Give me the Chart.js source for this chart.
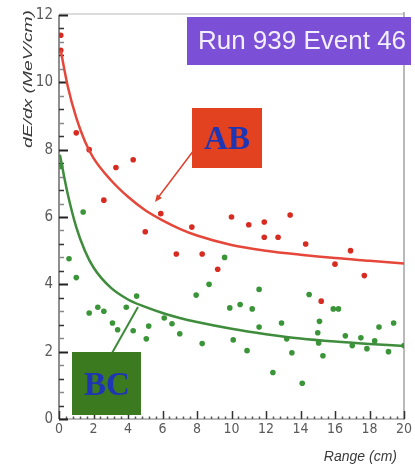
<!DOCTYPE html>
<html>
<head>
<meta charset="utf-8">
<script src="https://cdn.jsdelivr.net/npm/chart.js@4"></script>
<style>
html,body{margin:0;padding:0;background:#fff;}
#wrap{width:415px;height:470px;}
</style>
</head>
<body>
<div id="wrap"><canvas id="c" width="415" height="470"></canvas></div>
<script>
// ---- data ----
const abX = [0.1, 0.1, 1.0, 1.75, 2.6, 3.3, 4.3, 5.0, 5.9, 6.8, 7.7, 8.3, 9.2, 10.0, 11.0, 11.9, 11.9, 12.7, 13.4, 14.3, 15.2, 16.0, 16.9, 17.7];
const abY = [11.4, 10.95, 8.5, 8.0, 6.5, 7.47, 7.7, 5.56, 6.1, 4.9, 5.7, 4.9, 4.45, 6.0, 5.77, 5.85, 5.4, 5.4, 6.06, 5.2, 3.5, 4.6, 5.0, 4.26];

const bcX = [0.1, 0.58, 1.0, 1.4, 1.75, 2.25, 2.6, 3.1, 3.4, 3.9, 4.3, 4.5, 5.06, 5.2, 6.1, 6.55, 7.0, 7.95, 8.3, 8.7, 9.6, 9.9, 10.1, 10.5, 10.9, 11.2, 11.6, 11.6, 12.4, 12.9, 13.2, 13.5, 14.1, 14.5, 15.0, 15.05, 15.1, 15.3, 15.9, 16.2, 16.6, 17.0, 17.5, 17.85, 18.3, 18.55, 19.1, 19.4, 20.0];
const bcY = [7.5, 4.76, 4.2, 6.15, 3.15, 3.32, 3.2, 2.85, 2.65, 3.32, 2.62, 3.65, 2.38, 2.76, 3.0, 2.83, 2.53, 3.68, 2.24, 4.0, 4.8, 3.3, 2.35, 3.4, 2.03, 3.27, 3.85, 2.73, 1.38, 2.85, 2.38, 1.97, 1.06, 3.7, 2.56, 2.26, 2.9, 1.88, 3.27, 3.27, 2.47, 2.18, 2.41, 2.09, 2.32, 2.73, 2.0, 2.85, 2.18];

const abFitX = [0.1, 0.5, 1, 1.5, 2, 3, 4, 5, 6, 7, 8, 10, 12, 14, 16, 18, 20];
const abFitY = [10.95, 9.9, 8.95, 8.25, 7.75, 7.1, 6.6, 6.2, 5.9, 5.65, 5.45, 5.17, 5.0, 4.88, 4.78, 4.7, 4.62];

const bcFitX = [0.05, 0.5, 1, 1.5, 2, 3, 4, 5, 6, 7, 8, 10, 12, 14, 16, 18, 20];
const bcFitY = [7.85, 6.7, 5.7, 5.0, 4.5, 3.9, 3.55, 3.33, 3.15, 3.0, 2.88, 2.68, 2.52, 2.39, 2.3, 2.23, 2.17];

const xTicks = [0, 2, 4, 6, 8, 10, 12, 14, 16, 18, 20];
const yTicks = [0, 2, 4, 6, 8, 10, 12];

const xTitle = 'Range (cm)';
const yTitle = 'dE/dx (MeV/cm)';
const runLabel = 'Run 939 Event 46';
const abLabel = 'AB';
const bcLabel = 'BC';

const pts = (xs, ys) => xs.map((x, i) => ({x: x, y: ys[i]}));
const narrow = '"Liberation Sans Narrow", "DejaVu Sans Condensed", "Liberation Sans", Arial, sans-serif';

// ---- decorations plugin (frame, inward ticks, titles, labels) ----
const deco = {
  id: 'deco',
  beforeDatasetsDraw(chart) {
    const ctx = chart.ctx, a = chart.chartArea;
    const xs = chart.scales.x, ys = chart.scales.y;
    ctx.save();
    ctx.strokeStyle = '#cfcfcf'; ctx.lineWidth = 1.5;
    ctx.beginPath(); ctx.moveTo(a.left, a.top - 1); ctx.lineTo(a.right, a.top - 1); ctx.stroke();
    ctx.strokeStyle = '#8a8a8a'; ctx.lineWidth = 1.2;
    ctx.beginPath(); ctx.moveTo(a.right, a.top - 3); ctx.lineTo(a.right, a.bottom + 1); ctx.stroke();
    ctx.strokeStyle = '#444'; ctx.lineWidth = 1.2;
    ctx.beginPath(); ctx.moveTo(a.left, a.top); ctx.lineTo(a.left, a.bottom); ctx.stroke();
    ctx.strokeStyle = '#777'; ctx.lineWidth = 1;
    ctx.beginPath(); ctx.moveTo(a.left, a.bottom); ctx.lineTo(a.right, a.bottom); ctx.stroke();
    for (let i = 0; i <= 50; i++) {
      const v = i * 0.4;
      const major = i % 5 === 0;
      const px = Math.round(xs.getPixelForValue(v)) + 0.5;
      ctx.strokeStyle = major ? '#333' : '#555';
      ctx.lineWidth = 1.5;
      ctx.beginPath(); ctx.moveTo(px, a.bottom); ctx.lineTo(px, a.bottom - (major ? 8 : 2.5)); ctx.stroke();
    }
    for (let i = 0; i <= 30; i++) {
      const v = i * 0.4;
      const major = i % 5 === 0;
      const py = Math.round(ys.getPixelForValue(v)) + 0.5;
      ctx.strokeStyle = major ? '#222' : (i % 2 ? '#333' : '#888');
      ctx.lineWidth = major ? 2 : 1.5;
      ctx.beginPath(); ctx.moveTo(a.left, py); ctx.lineTo(a.left + (major ? 9 : 5), py); ctx.stroke();
    }
    ctx.restore();
  },
  afterDraw(chart) {
    const ctx = chart.ctx;
    ctx.save();
    // axis titles
    ctx.fillStyle = '#3a3a3a';
    ctx.font = 'italic 14px "Liberation Sans", Arial, sans-serif';
    ctx.textAlign = 'right'; ctx.textBaseline = 'middle';
    ctx.fillText(xTitle, 397, 457);
    ctx.save();
    ctx.font = 'italic 13px "Liberation Sans", Arial, sans-serif';
    const w = ctx.measureText(yTitle).width;
    ctx.translate(28, 10); ctx.rotate(-Math.PI / 2);
    ctx.scale(138 / w, 1);
    ctx.textAlign = 'right';
    ctx.fillText(yTitle, 0, 0);
    ctx.restore();

    // run box
    ctx.fillStyle = '#7b50d6';
    ctx.fillRect(187, 17, 224, 48);
    ctx.fillStyle = '#f4efff';
    ctx.font = '26px "Liberation Sans", Arial, sans-serif';
    ctx.textAlign = 'center'; ctx.textBaseline = 'middle';
    ctx.fillText(runLabel, 302, 42, 210);

    // AB arrow
    ctx.strokeStyle = '#e0402e'; ctx.fillStyle = '#e0402e'; ctx.lineWidth = 1.5;
    ctx.beginPath(); ctx.moveTo(194, 150); ctx.lineTo(157, 199); ctx.stroke();
    ctx.beginPath();
    const ang = Math.atan2(199 - 150, 157 - 194);
    ctx.moveTo(155, 202);
    ctx.lineTo(155 - 8 * Math.cos(ang - 0.4), 202 - 8 * Math.sin(ang - 0.4));
    ctx.lineTo(155 - 8 * Math.cos(ang + 0.4), 202 - 8 * Math.sin(ang + 0.4));
    ctx.closePath(); ctx.fill();

    // AB box
    ctx.fillStyle = '#e2421f';
    ctx.fillRect(192, 108, 70, 60);
    ctx.fillStyle = '#1f36b4';
    ctx.font = 'bold 33px "Liberation Serif", "Times New Roman", serif';
    ctx.fillText(abLabel, 227, 140);

    // BC connector
    ctx.strokeStyle = '#3d8a3a'; ctx.lineWidth = 2;
    ctx.beginPath(); ctx.moveTo(112, 353); ctx.lineTo(138, 307); ctx.stroke();

    // BC box
    ctx.fillStyle = '#3b7a1e';
    ctx.fillRect(72, 352, 69, 63);
    ctx.fillStyle = '#1f36b4';
    ctx.font = 'bold 33px "Liberation Serif", "Times New Roman", serif';
    ctx.fillText(bcLabel, 107, 386);
    ctx.restore();
  }
};

new Chart(document.getElementById('c'), {
  type: 'scatter',
  data: {
    datasets: [
      {label: 'AB fit', data: pts(abFitX, abFitY), showLine: true, borderColor: '#e5473a', borderWidth: 2.5, pointRadius: 0, cubicInterpolationMode: 'monotone', fill: false},
      {label: 'BC fit', data: pts(bcFitX, bcFitY), showLine: true, borderColor: '#3e8c3c', borderWidth: 2.5, pointRadius: 0, cubicInterpolationMode: 'monotone', fill: false},
      {label: 'AB', data: pts(abX, abY), pointRadius: 2.8, pointBackgroundColor: '#d72a20', pointBorderWidth: 0, borderColor: '#d72a20'},
      {label: 'BC', data: pts(bcX, bcY), pointRadius: 2.8, pointBackgroundColor: '#3a9438', pointBorderWidth: 0, borderColor: '#3a9438'}
    ]
  },
  options: {
    responsive: false,
    animation: false,
    devicePixelRatio: 1,
    layout: {padding: {left: 0, right: 11, top: 13, bottom: 0}},
    plugins: {legend: {display: false}, tooltip: {enabled: false}},
    scales: {
      x: {
        type: 'linear', min: 0, max: 20,
        afterBuildTicks: s => { s.ticks = xTicks.map(v => ({value: v})); },
        afterFit: s => { s.height = 51; },
        grid: {display: false, drawTicks: false},
        border: {display: false},
        ticks: {padding: 2, color: '#5a5a5a', font: {size: 14, family: narrow}, maxRotation: 0, autoSkip: false}
      },
      y: {
        type: 'linear', min: 0, max: 12,
        afterBuildTicks: s => { s.ticks = yTicks.map(v => ({value: v})); },
        afterFit: s => { s.width = 59; },
        grid: {display: false, drawTicks: false},
        border: {display: false},
        ticks: {padding: 6, color: '#5a5a5a', font: {size: 15, family: narrow}, autoSkip: false}
      }
    }
  },
  plugins: [deco]
});
</script>
</body>
</html>
